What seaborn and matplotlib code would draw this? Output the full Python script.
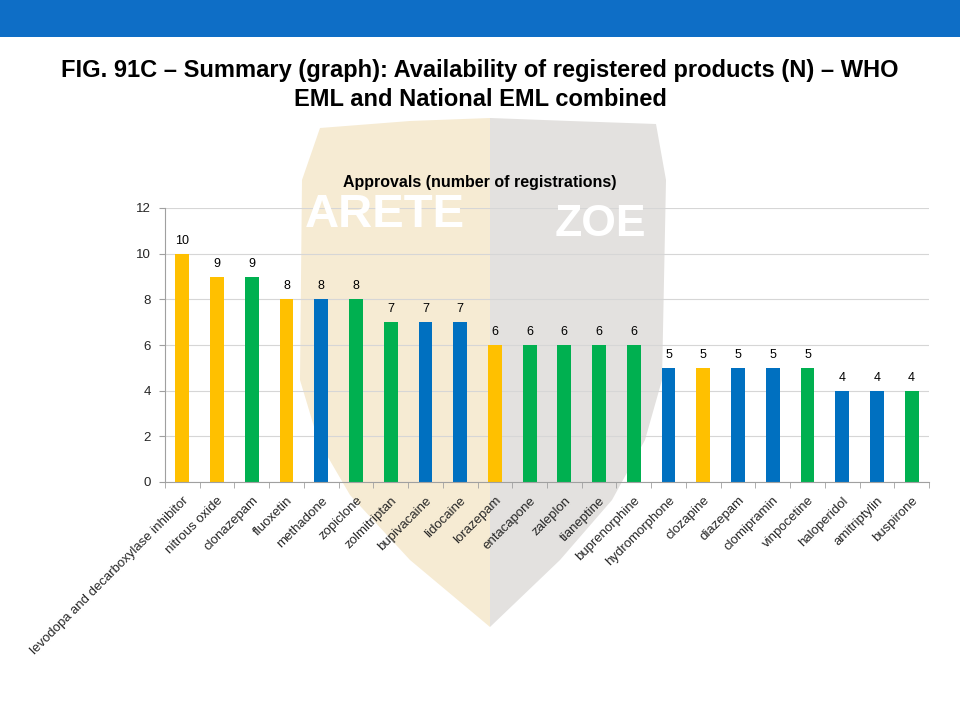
import numpy as np
import pandas as pd
import matplotlib
matplotlib.use("Agg")
import matplotlib.pyplot as plt
from matplotlib.patches import Polygon, Rectangle
import seaborn as sns

# Data
drugs = ["levodopa and decarboxylase inhibitor", "nitrous oxide", "clonazepam",
         "fluoxetin", "methadone", "zopiclone", "zolmitriptan", "bupivacaine",
         "lidocaine", "lorazepam", "entacapone", "zaleplon", "tianeptine",
         "buprenorphine", "hydromorphone", "clozapine", "diazepam",
         "clomipramin", "vinpocetine", "haloperidol", "amitriptylin", "buspirone"]
registrations = [10, 9, 9, 8, 8, 8, 7, 7, 7, 6, 6, 6, 6, 6, 5, 5, 5, 5, 5, 4, 4, 4]
# Colour group per bar (Y = yellow, G = green, B = blue)
groups = ["Y", "Y", "G", "Y", "B", "G", "G", "B", "B", "Y", "G", "G", "G",
          "G", "B", "Y", "B", "B", "G", "B", "B", "G"]

palette = {"Y": "#FFC000", "G": "#00B050", "B": "#0070C0"}

df = pd.DataFrame({"drug": drugs, "n": registrations, "group": groups})

sns.set_style("white")
plt.rcParams['font.family'] = ['Liberation Sans', 'DejaVu Sans']
plt.rcParams['text.color'] = 'black'

W, H = 960, 720
fig = plt.figure(figsize=(9.6, 7.2), dpi=100)

def fx(px):
    return px / W

def fy(py):
    return 1 - py / H

# top blue band
fig.patches.append(Rectangle((0, fy(37)), 1, 37 / H, transform=fig.transFigure,
                             facecolor="#0E6EC6", edgecolor="none", zorder=-2))

# faint shield watermark behind the chart
left_half = [(490, 118), (410, 121), (320, 128), (302, 180), (300, 380),
             (318, 440), (350, 495), (410, 560), (490, 627)]
right_half = [(490, 118), (570, 121), (656, 124), (666, 180), (662, 380),
              (645, 440), (612, 500), (560, 560), (490, 627)]
for pts, col in [(left_half, "#F6EBD3"), (right_half, "#E3E1DF")]:
    fig.patches.append(Polygon([(fx(x), fy(y)) for x, y in pts], closed=True,
                               transform=fig.transFigure, facecolor=col,
                               edgecolor="none", zorder=-1))
fig.text(fx(385), fy(215), "ARETE", color="white", fontsize=34, fontweight="bold",
         ha="center", va="center", zorder=3)
fig.text(fx(600), fy(225), "ZOE", color="white", fontsize=32, fontweight="bold",
         ha="center", va="center", zorder=3)

fig.text(0.5, fy(70), "FIG. 91C \u2013 Summary (graph): Availability of registered products (N) \u2013 WHO",
         ha="center", va="center", fontsize=17, fontweight="bold")
fig.text(0.5, fy(100), "EML and National EML combined",
         ha="center", va="center", fontsize=17, fontweight="bold")
fig.text(fx(480), fy(183), "Approvals (number of registrations)",
         ha="center", va="center", fontsize=11.5, fontweight="bold", zorder=4)

ax = fig.add_axes([fx(165), fy(482), fx(929) - fx(165), (482 - 208) / H])
ax.set_facecolor("none")
ax.set_zorder(1)

sns.barplot(data=df, x="drug", y="n", hue="group", palette=palette,
            dodge=False, width=0.4, legend=False, ax=ax, saturation=1,
            linewidth=0)

for i, v in enumerate(registrations):
    ax.text(i, v + 0.3, str(v), ha="center", va="bottom", fontsize=9)

ax.set_ylim(0, 12)
ax.set_yticks(range(0, 13, 2))
ax.set_xlim(-0.5, len(drugs) - 0.5)
ax.yaxis.grid(True, color="#D6D6D6", linewidth=0.8)
ax.set_axisbelow(True)
ax.set_xlabel("")
ax.set_ylabel("")
for s in ["top", "right"]:
    ax.spines[s].set_visible(False)
ax.spines["left"].set_color("#A0A0A0")
ax.spines["bottom"].set_color("#A0A0A0")
ax.tick_params(axis="y", labelsize=9.5, length=4, color="#A0A0A0", left=True, pad=6)
ax.set_xticks(np.arange(len(drugs) + 1) - 0.5, minor=True)
ax.tick_params(axis="x", which="major", length=0, labelsize=9.5, pad=9)
ax.tick_params(axis="x", which="minor", length=4, color="#A0A0A0", bottom=True)
ax.set_xticks(range(len(drugs)))
ax.set_xticklabels(drugs, rotation=45, ha="right", rotation_mode="anchor")

fig.savefig("out.png", dpi=100)
